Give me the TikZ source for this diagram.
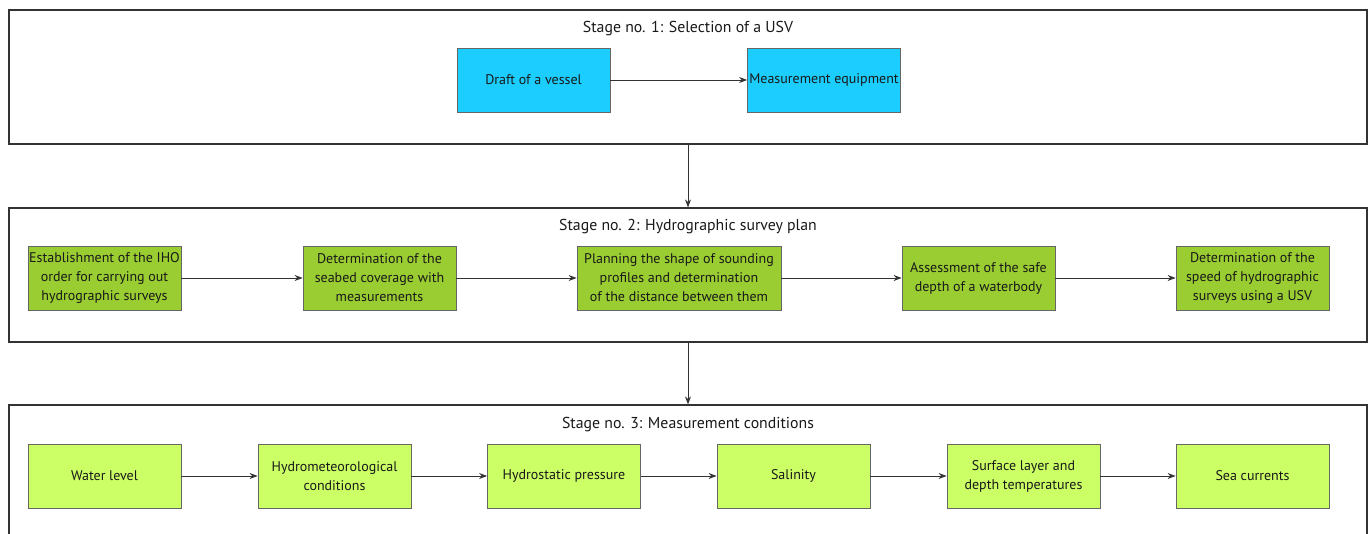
\documentclass[tikz,border=0pt]{standalone}
\usepackage{fontspec}
\setmainfont{PT Sans}
\usetikzlibrary{arrows.meta}
\definecolor{cyanbox}{HTML}{1CCDFF}
\definecolor{greenbox}{HTML}{9ACD32}
\definecolor{limebox}{HTML}{CCFF66}
\definecolor{edge}{HTML}{333333}
\tikzset{
  stagebox/.style={draw=edge, line width=1.2pt, minimum width=1358pt, inner sep=0pt},
  stagetitle/.style={font=\fontsize{15.8}{18}\selectfont, text=black!90},
  procbox/.style={draw=black!60, line width=0.8pt, minimum width=153pt, minimum height=64pt,
     inner sep=0pt, align=center, font=\fontsize{14}{19}\selectfont, text=black!90},
  bluebox/.style={procbox, fill=cyanbox},
  grnbox/.style={procbox, fill=greenbox},
  limbox/.style={procbox, fill=limebox},
  flow/.style={draw=edge, line width=0.9pt, -{Stealth[length=8pt,width=6pt]}}
}
\begin{document}
\begin{tikzpicture}[x=1pt,y=-1pt]
\useasboundingbox (0,0) rectangle (1370,533);
\clip (0,0) rectangle (1370,533);
\fill[white] (0,0) rectangle (1370,533);

% Stage boxes
\node[stagebox, minimum height=134pt] (s1) at (688,77) {};
\node[stagebox, minimum height=134pt] (s2) at (688,275) {};
\node[stagebox, minimum height=140pt] (s3) at (688,475) {};

\node[stagetitle] (t1) at (688,29) {Stage no. 1: Selection of a USV};
\node[stagetitle] (t2) at (688,227) {Stage no. 2: Hydrographic survey plan};
\node[stagetitle] (t3) at (688,425) {Stage no. 3: Measurement conditions};

% Stage 1
\node[bluebox] (a1) at (533.5,80) {Draft of a vessel};
\node[bluebox] (a2) at (824,80) {Measurement equipment};

% Stage 2
\node[grnbox] (b1) at (104.5,278) {Establishment of the IHO\\order for carrying out\\hydrographic surveys};
\node[grnbox] (b2) at (379.5,278) {Determination of the\\seabed coverage with\\measurements};
\node[grnbox, minimum width=204pt] (b3) at (679,278) {Planning the shape of sounding\\profiles and determination\\of the distance between them};
\node[grnbox] (b4) at (978.5,278) {Assessment of the safe\\depth of a waterbody};
\node[grnbox] (b5) at (1252.5,278) {Determination of the\\speed of hydrographic\\surveys using a USV};

% Stage 3
\node[limbox] (c1) at (104.5,476) {Water level};
\node[limbox] (c2) at (334.5,476) {Hydrometeorological\\conditions};
\node[limbox] (c3) at (564,476) {Hydrostatic pressure};
\node[limbox] (c4) at (793.5,476) {Salinity};
\node[limbox] (c5) at (1023.5,476) {Surface layer and\\depth temperatures};
\node[limbox] (c6) at (1252.5,476) {Sea currents};

% connectors
\draw[flow] (a1) -- (a2);
\draw[flow] (b1) -- (b2);
\draw[flow] (b2) -- (b3);
\draw[flow] (b3) -- (b4);
\draw[flow] (b4) -- (b5);
\draw[flow] (c1) -- (c2);
\draw[flow] (c2) -- (c3);
\draw[flow] (c3) -- (c4);
\draw[flow] (c4) -- (c5);
\draw[flow] (c5) -- (c6);
\draw[flow] (s1.south) -- (s2.north);
\draw[flow] (s2.south) -- (s3.north);
\end{tikzpicture}
\end{document}
